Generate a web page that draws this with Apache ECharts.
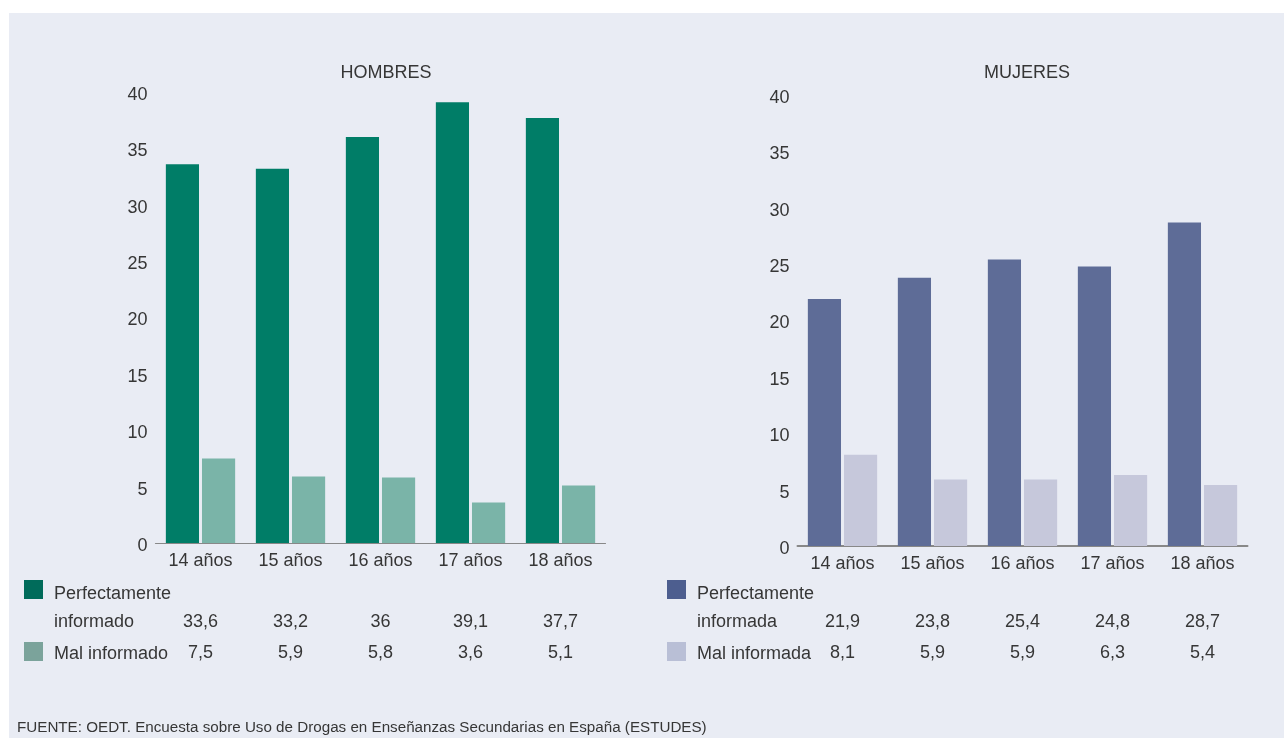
<!DOCTYPE html>
<html>
<head>
<meta charset="utf-8">
<script src="https://cdn.jsdelivr.net/npm/echarts@6/dist/echarts.min.js"></script>
<style>
html, body { margin: 0; padding: 0; background: #ffffff; }
#panel { position: absolute; left: 9px; top: 13px; width: 1275px; height: 725px; background: #e9ecf4; }
#chart { position: absolute; left: 0; top: 0; width: 1284px; height: 738px; }
</style>
</head>
<body>
<div id="panel"></div>
<div id="chart"></div>
<script>
// ---- Data ----
var categories = ['14 años', '15 años', '16 años', '17 años', '18 años'];
var hombresPerfecto = [33.6, 33.2, 36, 39.1, 37.7];
var hombresMal = [7.5, 5.9, 5.8, 3.6, 5.1];
var mujeresPerfecta = [21.9, 23.8, 25.4, 24.8, 28.7];
var mujeresMal = [8.1, 5.9, 5.9, 6.3, 5.4];
var yMin = 0, yMax = 40, yInterval = 5;
var titles = ['HOMBRES', 'MUJERES'];
var legendHombres = ['Perfectamente', 'informado', 'Mal informado'];
var legendMujeres = ['Perfectamente', 'informada', 'Mal informada'];
var source = 'FUENTE: OEDT. Encuesta sobre Uso de Drogas en Enseñanzas Secundarias en España (ESTUDES)';

// ---- Styles ----
var FONT = 'Liberation Sans, Arial, sans-serif';
var TXT = '#363636';
var FS = 18;
var cGreen = '#007d67', cGreenL = '#7ab4a8';
var cBlue = '#5e6c97', cBlueL = '#c6c8db';
var lgGreen = '#006b5a', lgGreenL = '#7ba39b';
var lgBlue = '#4d5e8f', lgBlueL = '#b9bfd6';

function fmt(v) { return String(v).replace('.', ','); }

var grids = [
  { left: 155.5, top: 92, width: 450, height: 451 },
  { left: 797.5, top: 95, width: 450, height: 451 }
];

function catAxis(gi, lineWidth) {
  return {
    type: 'category', gridIndex: gi, data: categories,
    axisLine: { show: true, lineStyle: { color: '#888888', width: lineWidth } },
    axisTick: { show: false },
    axisLabel: { color: TXT, fontSize: FS, fontFamily: FONT, margin: 9 }
  };
}
function rowAxis(gi, values, offset) {
  return {
    type: 'category', gridIndex: gi, position: 'bottom', offset: offset,
    data: values.map(fmt),
    axisLine: { show: false }, axisTick: { show: false }, splitLine: { show: false },
    axisLabel: { color: TXT, fontSize: FS, fontFamily: FONT, margin: 0, interval: 0 }
  };
}
function valAxis(gi) {
  return {
    type: 'value', gridIndex: gi, min: yMin, max: yMax, interval: yInterval,
    axisLine: { show: false }, axisTick: { show: false }, splitLine: { show: false },
    axisLabel: {
      color: TXT, fontSize: FS, fontFamily: FONT, margin: 8,
      formatter: function (v) { return '{a|' + v + '}'; },
      rich: { a: { color: TXT, fontSize: FS, fontFamily: FONT, padding: [6, 0, 0, 0] } }
    }
  };
}

function bar(xi, yi, data, color) {
  return {
    type: 'bar', xAxisIndex: xi, yAxisIndex: yi, data: data,
    barGap: '9%', barCategoryGap: '23%',
    itemStyle: { color: color },
    silent: true
  };
}

function legendGraphic(x, labels, c1, c2) {
  return [
    { type: 'rect', left: x, top: 580, shape: { width: 19, height: 19 }, style: { fill: c1 } },
    { type: 'rect', left: x, top: 642, shape: { width: 19, height: 19 }, style: { fill: c2 } },
    { type: 'text', left: x + 30, top: 585, style: { text: labels[0], fill: TXT, font: FS + 'px ' + FONT } },
    { type: 'text', left: x + 30, top: 613, style: { text: labels[1], fill: TXT, font: FS + 'px ' + FONT } },
    { type: 'text', left: x + 30, top: 645, style: { text: labels[2], fill: TXT, font: FS + 'px ' + FONT } }
  ];
}

var chart = echarts.init(document.getElementById('chart'), null, { renderer: 'canvas' });
chart.setOption({
  backgroundColor: 'transparent',
  animation: false,
  title: [
    { text: titles[0], left: 381, top: 59, textAlign: 'center', textStyle: { color: TXT, fontSize: 18, fontWeight: 'normal', fontFamily: FONT } },
    { text: titles[1], left: 1022, top: 59, textAlign: 'center', textStyle: { color: TXT, fontSize: 18, fontWeight: 'normal', fontFamily: FONT } }
  ],
  grid: grids,
  xAxis: [
    catAxis(0, 1.2),
    catAxis(1, 2),
    rowAxis(0, hombresPerfecto, 70),
    rowAxis(0, hombresMal, 101),
    rowAxis(1, mujeresPerfecta, 67),
    rowAxis(1, mujeresMal, 98)
  ],
  yAxis: [valAxis(0), valAxis(1)],
  series: [
    bar(0, 0, hombresPerfecto, cGreen),
    bar(0, 0, hombresMal, cGreenL),
    bar(1, 1, mujeresPerfecta, cBlue),
    bar(1, 1, mujeresMal, cBlueL)
  ],
  graphic: [].concat(
    legendGraphic(24, legendHombres, lgGreen, lgGreenL),
    legendGraphic(667, legendMujeres, lgBlue, lgBlueL),
    [{ type: 'text', left: 17, top: 720, style: { text: source, fill: TXT, font: '15.2px ' + FONT } }]
  )
});
</script>
</body>
</html>
